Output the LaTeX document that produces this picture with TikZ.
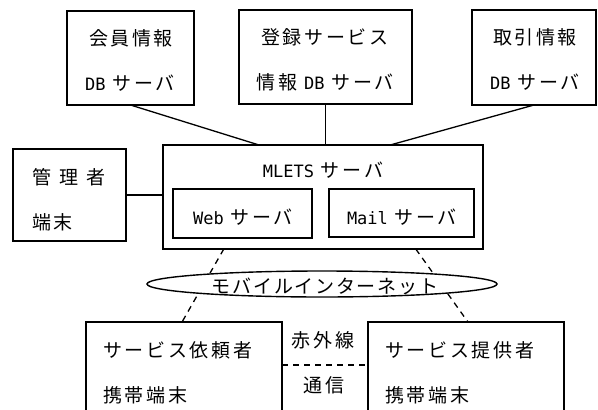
\documentclass[tikz,border=0pt]{standalone}
\usepackage{fontspec}
\newfontfamily\jp{Noto Sans CJK JP}[LetterSpace=14]
\newfontfamily\jpn{Noto Sans CJK JP}[LetterSpace=9]
\newfontfamily\la{DejaVu Sans Mono}
\newcommand{\lat}[1]{{\fontsize{17}{20}\selectfont\la #1}}
\usetikzlibrary{shapes.geometric,calc}
\begin{document}
\begin{tikzpicture}[x=1pt,y=-1pt,
  box/.style={draw, line width=1.3pt, fill=white, inner sep=0pt, outer sep=0pt},
  lbl/.style={inner sep=0pt, font=\fontsize{19}{22}\selectfont\jp},
  conn/.style={line width=1.3pt},
  dconn/.style={line width=1.3pt, dash pattern=on 6pt off 5pt}]
\useasboundingbox (0,0) rectangle (598,410);
\clip (0,0) rectangle (598,410);
\fill[white] (0,0) rectangle (598,410);
% boxes
\node[box, minimum width=127pt, minimum height=94pt] (b1) at (130.5,58) {};
\node[box, minimum width=173pt, minimum height=94pt] (b2) at (325.5,57) {};
\node[box, minimum width=124pt, minimum height=95pt] (b3) at (534,57.5) {};
\node[box, minimum width=113pt, minimum height=92pt] (adm) at (69.5,195) {};
\node[box, minimum width=320pt, minimum height=104pt] (mlets) at (323,197) {};
\node[box, minimum width=139pt, minimum height=49pt] (web) at (242.5,213.5) {};
\node[box, minimum width=145pt, minimum height=48pt] (mail) at (401.5,213) {};
\node[box, minimum width=196pt, minimum height=120pt] (lb) at (184,382) {};
\node[box, minimum width=196pt, minimum height=120pt] (rb) at (466,382) {};
% connectors
\draw[conn] (b1.south) -- ($(mlets.north west)!0.3!(mlets.north east)$);
\draw[conn] (b2.south) -- (b2.south |- mlets.north);
\draw[conn] (b3.south) -- ($(mlets.north west)!0.71!(mlets.north east)$);
\draw[conn] (adm.east) -- (mlets.west |- adm.east);
\draw[dconn] ($(mlets.south west)!0.19!(mlets.south east)$) -- ($(lb.north west)!0.49!(lb.north east)$);
\draw[dconn] ($(mlets.south west)!0.79!(mlets.south east)$) -- ($(rb.north west)!0.51!(rb.north east)$);
\draw[dconn] ($(lb.north east)+(0,43)$) -- ($(rb.north west)+(0,43)$);
% network ellipse
\node[ellipse, draw, line width=1.4pt, fill=white, minimum width=350pt, minimum height=26pt, inner sep=0pt] (net) at (322,284) {};
\node[lbl, font=\fontsize{19}{22}\selectfont\jpn] (nett) at (325,286) {モバイルインターネット};
% texts
\node[lbl] (t1a) at (131,38) {会員情報};
\node[lbl] (t1b) at (130,83) {\lat{DB} サーバ};
\node[lbl] (t2a) at (325,37) {登録サービス};
\node[lbl] (t2b) at (325,82) {情報 \lat{DB} サーバ};
\node[lbl] (t3a) at (535,37) {取引情報};
\node[lbl] (t3b) at (535,82) {\lat{DB} サーバ};
\node[lbl, anchor=west] (tad1) at (32,177) {管\hspace{8pt}理\hspace{8pt}者};
\node[lbl, anchor=west] (tad2) at (32,222) {端末};
\node[lbl] (tml) at (323,170) {\lat{MLETS} サーバ};
\node[lbl] (tweb) at (243,217) {\lat{Web} サーバ};
\node[lbl] (tmail) at (402,217) {\lat{Mail} サーバ};
\node[lbl, anchor=west] (tl1) at (103,350) {サービス依頼者};
\node[lbl, anchor=west] (tl2) at (103,395) {携帯端末};
\node[lbl, anchor=west] (tr1) at (385,350) {サービス提供者};
\node[lbl, anchor=west] (tr2) at (385,395) {携帯端末};
\node[lbl] (tir1) at (323,340) {赤外線};
\node[lbl] (tir2) at (324,385) {通信};
\end{tikzpicture}
\end{document}
